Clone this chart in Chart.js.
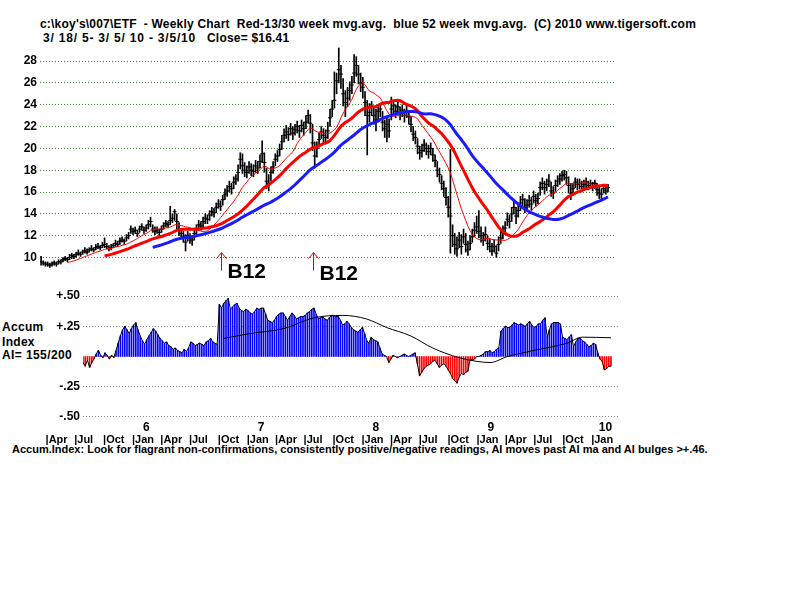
<!DOCTYPE html>
<html>
<head>
<meta charset="utf-8">
<script src="https://cdn.jsdelivr.net/npm/chart.js@4.4.1/dist/chart.umd.min.js"></script>
<style>
  body { margin: 0; background: #fff; width: 800px; height: 600px; position: relative; overflow: hidden;
         font-family: "Liberation Sans", Arial, sans-serif; font-weight: bold; color: #000; }
  .t { position: absolute; white-space: pre; font-size: 12px; line-height: 14px; }
  #priceCanvas { position: absolute; left: 0; top: 40px; }
  #aiCanvas { position: absolute; left: 0; top: 285px; }
</style>
</head>
<body>
<div class="t" style="left:40px;top:17px;letter-spacing:0.2px">c:\koy's\007\ETF  - Weekly Chart  Red-13/30 week mvg.avg.  blue 52 week mvg.avg.  (C) 2010 www.tigersoft.com</div>
<div class="t" style="left:43px;top:31px;letter-spacing:0.8px">3/ 18/ 5- 3/ 5/ 10 - 3/5/10</div>
<div class="t" style="left:207px;top:31px;letter-spacing:0.2px">Close= $16.41</div>
<div class="t" style="left:2px;top:320px;letter-spacing:0.3px">Accum</div>
<div class="t" style="left:2px;top:335px;letter-spacing:0.3px">Index</div>
<div class="t" style="left:2px;top:348px;letter-spacing:0.4px">AI= 155/200</div>
<div class="t" style="left:12px;top:442px;font-size:11px">Accum.Index: Look for flagrant non-confirmations, consistently positive/negative readings, AI moves past AI ma and AI bulges &gt;+.46.</div>

<canvas id="priceCanvas" width="620" height="245"></canvas>
<canvas id="aiCanvas" width="620" height="162"></canvas>

<script>
// weekly bars, week 0 = 3/18/05, last = 3/5/10
const START_DATE = '2005-03-18';

const closes = [
  9.6, 9.5, 9.4, 9.4, 9.3, 9.4, 9.5, 9.4, 9.6, 9.6,
  9.8, 9.9, 9.8, 10.0, 10.2, 10.1, 10.3, 10.4, 10.3, 10.5,
  10.6, 10.5, 10.7, 10.8, 10.7, 10.9, 11.0, 10.9, 11.1, 11.2,
  11.0, 10.8, 10.9, 11.1, 11.3, 11.2, 11.5, 11.6, 11.5, 11.8,
  12.0, 12.6, 12.4, 12.5, 12.2, 12.6, 12.8, 12.5, 12.7, 13.0,
  13.3, 12.6, 12.4, 12.5, 12.3, 12.6, 12.9, 13.1, 13.0, 13.4,
  13.6, 14.2, 13.3, 12.5, 12.2, 11.9, 11.4, 12.0, 11.8, 11.6,
  12.2, 12.6, 13.0, 12.9, 13.3, 13.6, 13.5, 13.9, 14.2, 14.1,
  14.6, 14.9, 14.7, 15.3, 15.8, 16.1, 16.5, 16.3, 16.9, 17.2,
  17.8, 19.0, 18.4, 18.0, 17.8, 18.3, 18.0, 17.9, 18.4, 18.2,
  18.8, 19.5, 18.7, 17.0, 16.8, 17.8, 18.3, 19.0, 19.3, 19.9,
  20.6, 21.2, 21.5, 21.3, 21.8, 21.4, 21.7, 22.0, 21.6, 22.1,
  21.8, 22.4, 23.0, 22.3, 20.5, 19.3, 20.0, 20.8, 21.5, 21.2,
  21.0, 21.6, 22.8, 23.6, 24.4, 26.2, 27.2, 26.8, 25.0, 24.2,
  24.6, 25.3, 25.8, 26.9, 27.6, 26.8, 26.0, 25.6, 24.2, 23.0,
  23.3, 23.8, 23.0, 22.6, 23.4, 23.6, 22.4, 21.8, 22.2, 21.6,
  23.6, 23.9, 23.4, 23.8, 23.2, 23.5, 23.0, 23.4, 22.9, 22.2,
  21.3, 21.0, 20.2, 19.6, 19.8, 20.3, 20.0, 19.7, 20.0, 19.4,
  18.9, 18.0, 17.6, 16.8, 16.3, 15.5, 14.6, 13.8, 12.0, 11.2,
  10.8, 11.6, 11.0, 11.9, 11.2, 10.7, 11.3, 11.9, 12.5, 12.8,
  12.4, 12.0, 11.6, 12.1, 11.3, 11.0, 10.6, 11.0, 10.4, 11.2,
  11.8, 12.3, 12.7, 13.5, 13.3, 14.0, 14.6, 13.8, 14.3, 15.0,
  15.3, 14.6, 14.8, 15.2, 14.9, 15.6, 15.2, 15.4, 16.4, 16.8,
  16.4, 16.7, 17.0, 16.1, 15.9, 16.6, 17.0, 17.2, 17.5, 17.6,
  17.3, 16.6, 15.9, 16.3, 16.9, 16.7, 16.8, 16.5, 16.7, 16.9,
  16.6, 16.8, 16.5, 16.8, 16.2, 15.9, 15.8, 16.3, 16.1, 16.41
];

const highs = [
  10.1, 9.7, 9.6, 9.6, 9.5, 9.6, 9.7, 9.6, 9.8, 9.8,
  10.0, 10.1, 10.0, 10.3, 10.4, 10.3, 10.5, 10.7, 10.5, 10.7,
  10.9, 10.8, 10.9, 11.1, 10.9, 11.2, 11.3, 11.1, 11.4, 11.8,
  11.3, 11.1, 11.2, 11.3, 11.6, 11.5, 11.8, 11.9, 11.7, 12.1,
  12.3, 12.9, 12.7, 12.8, 12.5, 12.9, 13.1, 12.8, 13.0, 13.4,
  13.7, 13.0, 12.8, 12.8, 12.6, 12.9, 13.2, 13.4, 13.3, 14.7,
  14.0, 14.4, 14.0, 13.2, 12.6, 12.4, 12.1, 12.4, 12.2, 12.0,
  12.6, 13.0, 13.4, 13.3, 13.7, 14.0, 13.9, 14.3, 14.6, 14.5,
  15.0, 15.3, 15.2, 15.7, 16.3, 16.6, 17.0, 16.8, 17.4, 17.6,
  18.5, 19.6, 19.5, 18.7, 18.4, 18.8, 18.6, 18.5, 18.9, 18.8,
  19.4, 20.7, 19.6, 18.2, 17.6, 18.3, 18.8, 19.5, 19.8, 20.4,
  21.2, 21.8, 22.1, 21.9, 22.3, 22.0, 22.2, 22.5, 22.1, 22.6,
  22.4, 23.0, 23.5, 23.1, 22.2, 20.6, 20.6, 21.4, 22.0, 21.8,
  21.7, 22.4, 23.6, 24.4, 27.0, 26.9, 29.2, 27.6, 26.4, 25.3,
  25.6, 26.1, 26.6, 28.6, 28.4, 27.6, 26.9, 26.5, 25.2, 24.4,
  24.1, 24.3, 23.8, 23.6, 24.0, 24.1, 23.4, 22.6, 22.8, 22.7,
  24.7, 24.4, 24.0, 24.3, 23.8, 24.0, 23.6, 23.9, 23.5, 22.9,
  22.0, 21.6, 20.9, 20.2, 20.4, 20.8, 20.5, 20.3, 20.5, 20.0,
  19.4, 18.8, 18.2, 17.5, 17.0, 16.4, 15.6, 19.9, 13.0, 12.2,
  11.9, 12.3, 12.1, 12.6, 12.2, 11.5, 12.0, 12.6, 13.2, 13.8,
  14.3, 12.8, 12.3, 12.8, 12.0, 11.7, 11.3, 11.6, 11.1, 11.9,
  12.4, 12.9, 13.3, 14.1, 13.9, 14.6, 15.2, 14.6, 14.9, 15.6,
  15.8, 15.4, 15.3, 15.7, 15.5, 16.1, 15.8, 15.9, 16.9, 17.3,
  17.0, 17.2, 17.6, 16.9, 16.5, 17.1, 17.5, 17.7, 17.9, 18.0,
  17.9, 17.4, 16.8, 16.8, 17.3, 17.2, 17.2, 17.0, 17.1, 17.3,
  17.0, 17.1, 16.9, 17.1, 16.8, 16.5, 16.3, 16.6, 16.5, 16.7
];

const lows = [
  9.3, 9.3, 9.2, 9.2, 9.1, 9.2, 9.3, 9.2, 9.4, 9.4,
  9.6, 9.7, 9.6, 9.8, 9.9, 9.9, 10.0, 10.2, 10.1, 10.3,
  10.4, 10.3, 10.5, 10.6, 10.5, 10.7, 10.8, 10.7, 10.9, 10.9,
  10.8, 10.6, 10.7, 10.9, 11.0, 11.0, 11.2, 11.4, 11.2, 11.5,
  11.7, 12.2, 12.1, 12.2, 11.9, 12.3, 12.5, 12.2, 12.4, 12.6,
  12.8, 12.3, 12.1, 12.2, 12.0, 12.3, 12.6, 12.8, 12.7, 13.0,
  13.2, 13.4, 12.6, 12.0, 11.7, 11.4, 10.6, 11.5, 11.3, 11.1,
  11.6, 12.1, 12.5, 12.5, 12.8, 13.1, 13.1, 13.4, 13.8, 13.7,
  14.1, 14.5, 14.3, 14.8, 15.3, 15.6, 16.0, 15.8, 16.3, 16.7,
  17.0, 18.1, 17.7, 17.4, 17.3, 17.7, 17.5, 17.4, 17.8, 17.7,
  18.2, 18.7, 17.8, 16.3, 16.1, 17.0, 17.7, 18.4, 18.8, 19.3,
  19.9, 20.6, 20.9, 20.7, 21.2, 20.8, 21.2, 21.4, 21.0, 21.5,
  21.2, 21.8, 22.3, 21.4, 19.8, 18.2, 19.2, 20.1, 20.9, 20.5,
  20.4, 20.9, 22.0, 22.9, 23.7, 25.0, 26.0, 25.5, 23.9, 22.9,
  23.8, 24.4, 25.0, 26.0, 26.6, 25.9, 25.2, 24.6, 23.0, 19.4,
  22.4, 23.0, 22.2, 21.6, 22.6, 22.9, 21.6, 21.0, 20.6, 21.0,
  22.6, 23.2, 22.8, 23.1, 22.6, 22.9, 22.4, 22.8, 22.2, 21.5,
  20.7, 20.4, 19.5, 19.0, 19.2, 19.7, 19.4, 19.1, 19.4, 18.8,
  18.3, 17.4, 16.9, 16.2, 15.6, 14.8, 13.7, 10.4, 11.0, 10.3,
  10.1, 10.9, 10.3, 11.3, 10.5, 10.2, 10.7, 11.4, 11.9, 12.2,
  11.8, 11.4, 11.1, 11.5, 10.7, 10.5, 10.2, 10.5, 10.0, 10.6,
  11.3, 11.7, 12.1, 12.9, 12.7, 13.3, 14.0, 13.1, 13.7, 14.3,
  14.7, 14.1, 14.3, 14.6, 14.3, 15.0, 14.7, 14.9, 15.7, 16.2,
  15.8, 16.1, 16.5, 15.6, 15.4, 16.0, 16.5, 16.7, 17.0, 17.1,
  16.7, 15.9, 15.3, 15.8, 16.4, 16.2, 16.3, 16.0, 16.2, 16.4,
  16.2, 16.4, 16.1, 16.3, 15.7, 15.4, 15.4, 15.9, 15.8, 16.0
];

// Accumulation Index, first value is week 19
const AI_START_WEEK = 19;
const aiValues = [
  -0.05, -0.08, -0.03, -0.09, -0.05, -0.02, 0.02, 0.05, 0.01, -0.01,
  0.03, 0.01, -0.02, 0.01, -0.01, 0.05, 0.11, 0.17, 0.22, 0.25,
  0.22, 0.19, 0.23, 0.26, 0.28, 0.22, 0.17, 0.13, 0.10, 0.14,
  0.17, 0.20, 0.23, 0.21, 0.18, 0.15, 0.13, 0.11, 0.12, 0.09,
  0.08, 0.06, 0.07, 0.05, 0.04, 0.03, 0.06, 0.04, 0.07, 0.12,
  0.11, 0.09, 0.10, 0.11, 0.10, 0.09, 0.12, 0.13, 0.15, 0.12,
  0.11, 0.10, 0.43, 0.40, 0.44, 0.46, 0.48, 0.39, 0.41, 0.43,
  0.44, 0.40, 0.38, 0.37, 0.39, 0.38, 0.36, 0.35, 0.37, 0.40,
  0.39, 0.40, 0.40, 0.35, 0.30, 0.29, 0.28, 0.30, 0.33, 0.35,
  0.36, 0.36, 0.33, 0.30, 0.33, 0.36, 0.34, 0.31, 0.32, 0.33,
  0.33, 0.34, 0.36, 0.37, 0.39, 0.40, 0.35, 0.31, 0.32, 0.33,
  0.31, 0.30, 0.32, 0.34, 0.34, 0.33, 0.33, 0.30, 0.26, 0.27,
  0.29, 0.27, 0.24, 0.22, 0.21, 0.20, 0.22, 0.24, 0.19, 0.13,
  0.11, 0.16, 0.14, 0.13, 0.12, 0.07, 0.02, 0.01, 0.00, -0.05,
  -0.02, 0.01, 0.00, -0.01, 0.00, 0.01, 0.02, 0.01, 0.00, 0.01,
  0.02, 0.03, -0.06, -0.16, -0.13, -0.10, -0.08, -0.07, -0.06, -0.04,
  -0.03, -0.06, -0.09, -0.07, -0.06, -0.08, -0.11, -0.14, -0.18, -0.20,
  -0.22, -0.17, -0.14, -0.15, -0.13, -0.12, -0.02, -0.03, -0.02, 0.00,
  0.00, 0.01, 0.02, 0.04, 0.04, 0.05, 0.03, 0.04, 0.06, 0.07,
  0.21, 0.23, 0.25, 0.24, 0.24, 0.26, 0.28, 0.27, 0.26, 0.27,
  0.26, 0.25, 0.27, 0.29, 0.26, 0.24, 0.25, 0.27, 0.27, 0.30,
  0.32, 0.16, 0.22, 0.27, 0.28, 0.28, 0.28, 0.27, 0.16, 0.15,
  0.14, 0.16, 0.18, 0.08, 0.12, 0.15, 0.15, 0.13, 0.12, 0.10,
  0.08, 0.09, 0.11, 0.10, 0.03, -0.02, -0.04, -0.11, -0.10, -0.08,
  -0.08
];

// AI moving average (black line), read at these weeks
const aiMaWeeks = [83, 95, 110, 124, 137, 148, 157, 168, 178, 190, 198, 204, 212, 224, 239, 246, 259];
const aiMaValues = [0.15, 0.19, 0.23, 0.32, 0.34, 0.31, 0.24, 0.17, 0.07, -0.01, -0.04, -0.05, 0.00, 0.05, 0.11, 0.16, 0.155];

const priceTicks = [10, 12, 14, 16, 18, 20, 22, 24, 26, 28];
const aiTicks = [0.5, 0.25, -0.25, -0.5];

const yearLabels = ['6', '7', '8', '9', '10'];
const yearStarts = ['2006-01-01', '2007-01-01', '2008-01-01', '2009-01-01', '2010-01-01'];
const monthLabels = ['|Apr', '|Jul', '|Oct', '|Jan', '|Apr', '|Jul', '|Oct', '|Jan', '|Apr', '|Jul',
                     '|Oct', '|Jan', '|Apr', '|Jul', '|Oct', '|Jan', '|Apr', '|Jul', '|Oct', '|Jan'];
const monthStarts = ['2005-04-01', '2005-07-01', '2005-10-01', '2006-01-01', '2006-04-01', '2006-07-01',
                     '2006-10-01', '2007-01-01', '2007-04-01', '2007-07-01', '2007-10-01', '2008-01-01',
                     '2008-04-01', '2008-07-01', '2008-10-01', '2009-01-01', '2009-04-01', '2009-07-01',
                     '2009-10-01', '2010-01-01'];

const signalWeeks = [82, 124];
const signalLabels = ['B12', 'B12'];

// ---------------------------------------------------------------
const WEEK_MS = 7 * 24 * 3600 * 1000;
function weekOf(d) { return (new Date(d) - new Date(START_DATE)) / WEEK_MS; }

function movingAverage(vals, n) {
  return vals.map(function (v, i) {
    if (i < n - 1) return { x: i, y: null };
    let s = 0;
    for (let k = i - n + 1; k <= i; k++) s += vals[k];
    return { x: i, y: s / n };
  });
}

Chart.defaults.font.family = '"Liberation Sans", Arial, sans-serif';
Chart.defaults.font.size = 12;
Chart.defaults.font.weight = 'bold';
Chart.defaults.color = '#000';

const X_MAX = 262.2;

// keep the plot area exactly where layout.padding puts it
function fixY(width) {
  return function (s) { s.width = width; s.paddingTop = 0; s.paddingBottom = 0; };
}

const signalPlugin = {
  id: 'signals',
  afterDatasetsDraw: function (chart) {
    const ctx = chart.ctx;
    const x = chart.scales.x, y = chart.scales.y;
    ctx.save();
    signalWeeks.forEach(function (w, i) {
      const px = Math.round(x.getPixelForValue(w)) + 0.5;
      const tip = y.getPixelForValue(10.45);
      ctx.strokeStyle = '#ee0000';
      ctx.lineWidth = 1;
      ctx.beginPath();
      ctx.moveTo(px, tip + 18); ctx.lineTo(px, tip);
      ctx.moveTo(px - 5, tip + 6); ctx.lineTo(px, tip); ctx.lineTo(px + 5, tip + 6);
      ctx.stroke();
      ctx.fillStyle = '#000';
      ctx.font = 'bold 21px "Liberation Sans", Arial, sans-serif';
      ctx.textBaseline = 'alphabetic';
      ctx.fillText(signalLabels[i], px + 6, tip + 25 + i * 2);
    });
    ctx.restore();
  }
};

new Chart(document.getElementById('priceCanvas'), {
  type: 'bar',
  data: {
    datasets: [
      { type: 'line', data: movingAverage(closes, 52), borderColor: '#1a1aff', borderWidth: 3,
        pointRadius: 0, xAxisID: 'x', order: 1 },
      { type: 'line', data: movingAverage(closes, 30), borderColor: '#ff0000', borderWidth: 3,
        pointRadius: 0, xAxisID: 'x', order: 2 },
      { type: 'line', data: movingAverage(closes, 13), borderColor: '#ff0000', borderWidth: 1,
        pointRadius: 0, xAxisID: 'x', order: 3 },
      { type: 'line', data: closes.map(function (c, i) { return { x: i, y: c }; }), showLine: false,
        pointStyle: 'line', pointRadius: 2, borderColor: '#000', borderWidth: 1, xAxisID: 'x', order: 4 },
      { type: 'bar', data: highs.map(function (h, i) { return { x: i, y: [lows[i], h] }; }),
        backgroundColor: '#000', barThickness: 1, xAxisID: 'x', order: 5 }
    ]
  },
  options: {
    responsive: false, animation: false, events: [],
    layout: { padding: { top: 5, right: 2, bottom: 0, left: 0 } },
    plugins: { legend: { display: false }, tooltip: { enabled: false } },
    scales: {
      x: { type: 'linear', min: -0.5, max: X_MAX, offset: false, display: false, grid: { offset: false } },
      y: {
        min: 7.94, max: 29.47, beginAtZero: false,
        afterBuildTicks: function (s) { s.ticks = priceTicks.map(function (v) { return { value: v }; }); },
        afterFit: fixY(40),
        ticks: { padding: 3, color: '#000' },
        grid: { color: '#3d8b3d', drawTicks: false },
        border: { display: false, dash: [1, 2] }
      }
    }
  },
  plugins: [signalPlugin]
});

const aiData = aiValues.map(function (v, i) { return { x: i + AI_START_WEEK, y: v }; });

new Chart(document.getElementById('aiCanvas'), {
  type: 'bar',
  data: {
    datasets: [
      { type: 'line', data: aiMaWeeks.map(function (w, i) { return { x: w, y: aiMaValues[i] }; }),
        borderColor: '#000', borderWidth: 1, pointRadius: 0, cubicInterpolationMode: 'monotone',
        xAxisID: 'x', order: 1 },
      { type: 'line', data: aiData, borderColor: '#000', borderWidth: 1, pointRadius: 0,
        xAxisID: 'x', order: 2 },
      { type: 'bar', data: aiData, barThickness: 1, xAxisID: 'x', order: 3,
        backgroundColor: aiValues.map(function (v) { return v >= 0 ? '#0000ff' : '#ff0000'; }) }
    ]
  },
  options: {
    responsive: false, animation: false, events: [],
    layout: { padding: { top: 5, right: 2, bottom: 0, left: 0 } },
    plugins: { legend: { display: false }, tooltip: { enabled: false } },
    scales: {
      x: { type: 'linear', min: 19, max: X_MAX, offset: false, display: false, grid: { offset: false } },
      xYear: {
        type: 'linear', position: 'bottom', weight: 1, min: 19, max: X_MAX, offset: false,
        afterBuildTicks: function (s) {
          s.ticks = yearStarts.map(function (d) { return { value: weekOf(d) + 6.5 }; });
        },
        afterFit: function (s) { s.height = 13; s.paddingLeft = 0; s.paddingRight = 0; },
        ticks: { autoSkip: false, maxRotation: 0, padding: 0,
                 callback: function (v, i) { return yearLabels[i]; } },
        grid: { display: false, drawTicks: false }, border: { display: false }
      },
      xMonth: {
        type: 'linear', position: 'bottom', weight: 2, min: 19, max: X_MAX, offset: false,
        afterBuildTicks: function (s) {
          s.ticks = monthStarts.map(function (d) { return { value: weekOf(d) }; });
        },
        afterFit: function (s) { s.height = 14; s.paddingLeft = 0; s.paddingRight = 0; },
        ticks: { autoSkip: false, maxRotation: 0, padding: 0, align: 'start', font: { size: 11 },
                 callback: function (v, i) { return monthLabels[i]; } },
        grid: { display: false, drawTicks: false }, border: { display: false }
      },
      y: {
        min: -0.525, max: 0.55, beginAtZero: false,
        afterBuildTicks: function (s) { s.ticks = aiTicks.map(function (v) { return { value: v }; }); },
        afterFit: fixY(83),
        ticks: { padding: 3, color: '#000',
                 callback: function (v) { return (v > 0 ? '+' : '-') + Math.abs(v).toFixed(2).slice(1); } },
        grid: { color: '#8c8c8c', drawTicks: false },
        border: { display: false, dash: [1, 2] }
      }
    }
  }
});
</script>
</body>
</html>
